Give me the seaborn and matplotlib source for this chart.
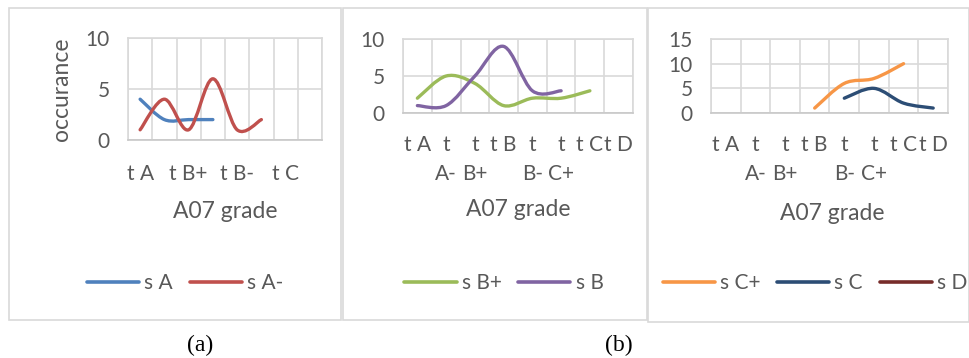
import numpy as np
import pandas as pd
import matplotlib
matplotlib.use("Agg")
import matplotlib.pyplot as plt
import seaborn as sns
from matplotlib.path import Path
from matplotlib.patches import PathPatch, Rectangle
from matplotlib.lines import Line2D

# Data
grades = ["t A", "t A-", "t B+", "t B", "t B-", "t C+", "t C", "t D"]
nan = np.nan
s_A = [4, 2, 2, 2, nan, nan, nan, nan]
s_A_minus = [1, 4, 1, 6, 1, 2, nan, nan]
s_B_plus = [2, 5, 4, 1, 2, 2, 3, nan]
s_B = [1, 1, 5, 9, 3, 3, nan, nan]
s_C_plus = [nan, nan, nan, 1, 6, 7, 10, nan]
s_C = [nan, nan, nan, nan, 3, 5, 2, 1]
s_D = [nan] * 8

panels = [
    {"series": {"s A": s_A, "s A-": s_A_minus}, "yticks": [0, 5, 10], "every": 2},
    {"series": {"s B+": s_B_plus, "s B": s_B}, "yticks": [0, 5, 10], "every": 1},
    {"series": {"s C+": s_C_plus, "s C": s_C, "s D": s_D}, "yticks": [0, 5, 10, 15], "every": 1},
]
colors = {"s A": "#4F81BD", "s A-": "#C0504D", "s B+": "#9BBB59", "s B": "#8064A2",
          "s C+": "#F79646", "s C": "#2C4D75", "s D": "#772C2A"}

sns.set_theme(style="white")
plt.rcParams["font.family"] = ["Lato", "DejaVu Sans"]

TXT = "#595959"
GRID = "#D9D9D9"
W, H = 970, 358
TICK_FS = 15
LABEL_FS = 16.5

def fx(px):
    return px / W

def fy(py):
    return 1 - py / H


def smooth_path(x, y):
    """Excel-like smoothed line (Catmull-Rom bezier) for each contiguous run."""
    verts, codes = [], []
    x = np.asarray(x, float)
    y = np.asarray(y, float)
    ok = ~np.isnan(y)
    runs, cur = [], []
    for i in range(len(y)):
        if ok[i]:
            cur.append(i)
        elif cur:
            runs.append(cur)
            cur = []
    if cur:
        runs.append(cur)
    for run in runs:
        pts = np.column_stack([x[run], y[run]])
        n = len(pts)
        verts.append(pts[0])
        codes.append(Path.MOVETO)
        for i in range(n - 1):
            p0 = pts[max(i - 1, 0)]
            p1 = pts[i]
            p2 = pts[i + 1]
            p3 = pts[min(i + 2, n - 1)]
            c1 = p1 + (p2 - p0) / 6
            c2 = p2 - (p3 - p1) / 6
            verts += [c1, c2, p2]
            codes += [Path.CURVE4] * 3
    if not verts:
        return None
    return Path(verts, codes)


fig = plt.figure(figsize=(W / 100, H / 100), dpi=100)
fig.patch.set_facecolor("white")

# panel frames
for (x0, y0, x1, y1) in [(9, 8, 341, 320), (343, 8, 647, 320), (648, 8, 969, 322)]:
    fig.add_artist(Rectangle((fx(x0), fy(y1)), fx(x1 - x0), (y1 - y0) / H,
                             transform=fig.transFigure, fill=False,
                             edgecolor=GRID, lw=1.2))

# plot areas in pixels: left, top, right, bottom
boxes = [(128, 38, 322, 140), (403, 39, 633, 113), (711, 39, 948, 113)]
xlabel_y = [212, 210, 213]
legend_pos = [(185, 283), (504, 283), (815, 283)]

for k, (p, b) in enumerate(zip(panels, boxes)):
    l, t, r, bt = b
    ax = fig.add_axes([fx(l), fy(bt), fx(r - l), (bt - t) / H])
    ax.set_facecolor("white")
    n = len(grades)
    ax.set_xlim(-0.5, n - 0.5)
    ax.set_ylim(0, p["yticks"][-1])
    ax.set_yticks(p["yticks"])
    ax.set_yticklabels([str(v) for v in p["yticks"]], fontsize=TICK_FS, color=TXT)
    ax.set_xticks(np.arange(n))
    if p["every"] == 2:
        labels = [g if i % 2 == 0 else "" for i, g in enumerate(grades)]
    else:
        labels = [g if len(g) <= 3 else g.replace(" ", "\n") for g in grades]
    ax.set_xticklabels(labels, fontsize=TICK_FS, color=TXT, linespacing=1.55, va="top")
    ax.set_xticks(np.arange(n + 1) - 0.5, minor=True)
    ax.tick_params(axis="both", which="both", length=0)
    ax.tick_params(axis="y", pad=13)
    ax.tick_params(axis="x", pad=17 if k == 0 else 16)
    ax.grid(True, which="minor", axis="x", color=GRID, lw=1.2)
    ax.grid(True, which="major", axis="y", color=GRID, lw=1.2)
    for s in ax.spines.values():
        s.set_color(GRID)
        s.set_linewidth(1.2)
    ax.spines["bottom"].set_color("#C8C8C8")

    handles = []
    xs = np.arange(n)
    for name, vals in p["series"].items():
        df = pd.DataFrame({"grade": xs, "count": vals})
        path = smooth_path(df["grade"], df["count"])
        if path is not None:
            ax.add_patch(PathPatch(path, fill=False, edgecolor=colors[name],
                                   lw=2.4, capstyle="round", joinstyle="round",
                                   clip_on=False))
        handles.append(Line2D([], [], color=colors[name], lw=2.6, solid_capstyle="round"))

    ax.set_xlabel("A07 grade", fontsize=LABEL_FS, color=TXT)
    ax.xaxis.set_label_coords((0.5 * (l + r) + (3 if k == 2 else 0) - l) / (r - l),
                              (bt - xlabel_y[k]) / (bt - t))
    ax.xaxis.label.set_va("center")
    if k == 0:
        ax.set_ylabel("occurance", fontsize=LABEL_FS, color=TXT)
        ax.yaxis.set_label_coords((62 - l) / (r - l), 0.5)
        ax.yaxis.label.set_va("center")

    lx, ly = legend_pos[k]
    fig.legend(handles, list(p["series"].keys()), loc="center",
               bbox_to_anchor=(fx(lx), fy(ly)), ncol=len(handles), frameon=False,
               fontsize=TICK_FS, labelcolor=TXT, handlelength=2.5, handletextpad=0.25,
               columnspacing=0.8, borderaxespad=0)

fig.text(fx(200), fy(345), "(a)", family="Liberation Serif", fontsize=17,
         ha="center", va="center", color="black")
fig.text(fx(619), fy(345), "(b)", family="Liberation Serif", fontsize=17,
         ha="center", va="center", color="black")

fig.savefig("out.png", dpi=100, facecolor="white")
